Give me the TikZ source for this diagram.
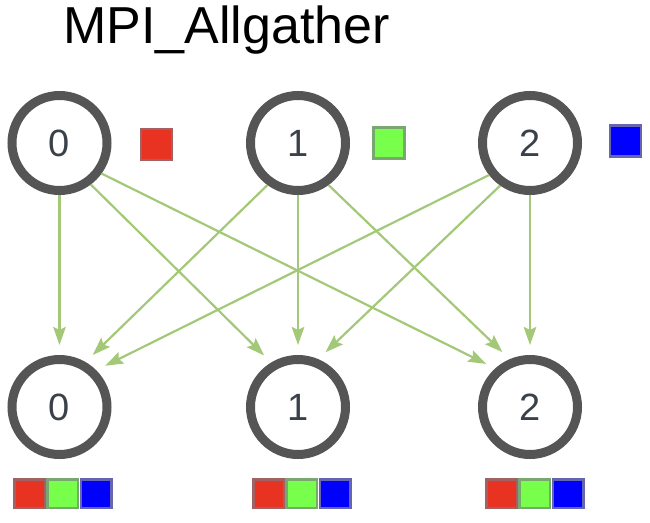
\documentclass[tikz,border=0pt]{standalone}
\usepackage{fontspec}
\setmainfont{Liberation Sans}
\usetikzlibrary{arrows.meta}
\definecolor{ringc}{HTML}{555555}
\definecolor{digitc}{HTML}{3A4149}
\definecolor{arrowc}{HTML}{A3C878}
\definecolor{redf}{HTML}{E83222}
\definecolor{redb}{HTML}{A06262}
\definecolor{greenf}{HTML}{77FF4C}
\definecolor{greenb}{HTML}{78A870}
\definecolor{bluef}{HTML}{0000FF}
\definecolor{blueb}{HTML}{6666B0}
\tikzset{
  proc/.style={circle, draw=ringc, line width=9pt, minimum size=95pt, inner sep=0pt, fill=white,
    font=\fontsize{38}{38}\selectfont, text=digitc},
  flow/.style={draw=arrowc, line width=2.2pt, shorten >=10pt,
    -{Stealth[length=18pt,width=12.5pt,inset=3pt]}},
  bigsq/.style={draw, line width=2.5pt, minimum width=31pt, minimum height=31pt, inner sep=0pt},
  smallsq/.style={draw, line width=2.5pt, minimum width=30.5pt, minimum height=28.5pt, inner sep=0pt},
  rsq/.style={fill=redf, draw=redb},
  gsq/.style={fill=greenf, draw=greenb},
  bsq/.style={fill=bluef, draw=blueb},
  title/.style={font=\fontsize{52}{52}\selectfont, text=black, inner sep=0pt}
}
\begin{document}
\begin{tikzpicture}[x=1pt, y=-1pt]
\useasboundingbox (0,0) rectangle (650,522);
\node[title, anchor=base west] (ttl) at (63,43) {MPI\_Allgather};
% top processes
\node[proc] (t0) at (59.5,143) {\raisebox{-3.5pt}{0}};
\node[proc] (t1) at (298,143) {\raisebox{-3.5pt}{1}};
\node[proc] (t2) at (530,143) {\raisebox{-3.5pt}{2}};
% bottom processes
\node[proc] (b0) at (59.5,407) {\raisebox{-3.5pt}{0}};
\node[proc] (b1) at (298,407) {\raisebox{-3.5pt}{1}};
\node[proc] (b2) at (530,407) {\raisebox{-3.5pt}{2}};
% top data squares
\node[bigsq, rsq] (d0) at (156.5,144.5) {};
\node[bigsq, gsq] (d1) at (389,143) {};
\node[bigsq, bsq] (d2) at (625.5,141) {};
% bottom strips
\foreach \n/\x in {0/29.5, 1/268.5, 2/501.5} {
  \node[smallsq, rsq] (s\n r) at (\x,493.5) {};
  \node[smallsq, gsq] (s\n g) at (\x+33.3,493.5) {};
  \node[smallsq, bsq] (s\n b) at (\x+66.6,493.5) {};
}
% arrows
\draw[flow] (t0.south) -- (b0.north);
\draw[flow] (t0.-53.7) -- (b1.121.7);
\draw[flow] (t0.-36) -- (b2.132.3);
\draw[flow] (t1.234.8) -- (b0.60.2);
\draw[flow] (t1.south) -- (b1.north);
\draw[flow] (t1.-54) -- (b2.113.7);
\draw[flow] (t2.218.7) -- (b0.45.4);
\draw[flow] (t2.235.7) -- (b1.67.5);
\draw[flow] (t2.south) -- (b2.north);
\end{tikzpicture}
\end{document}
